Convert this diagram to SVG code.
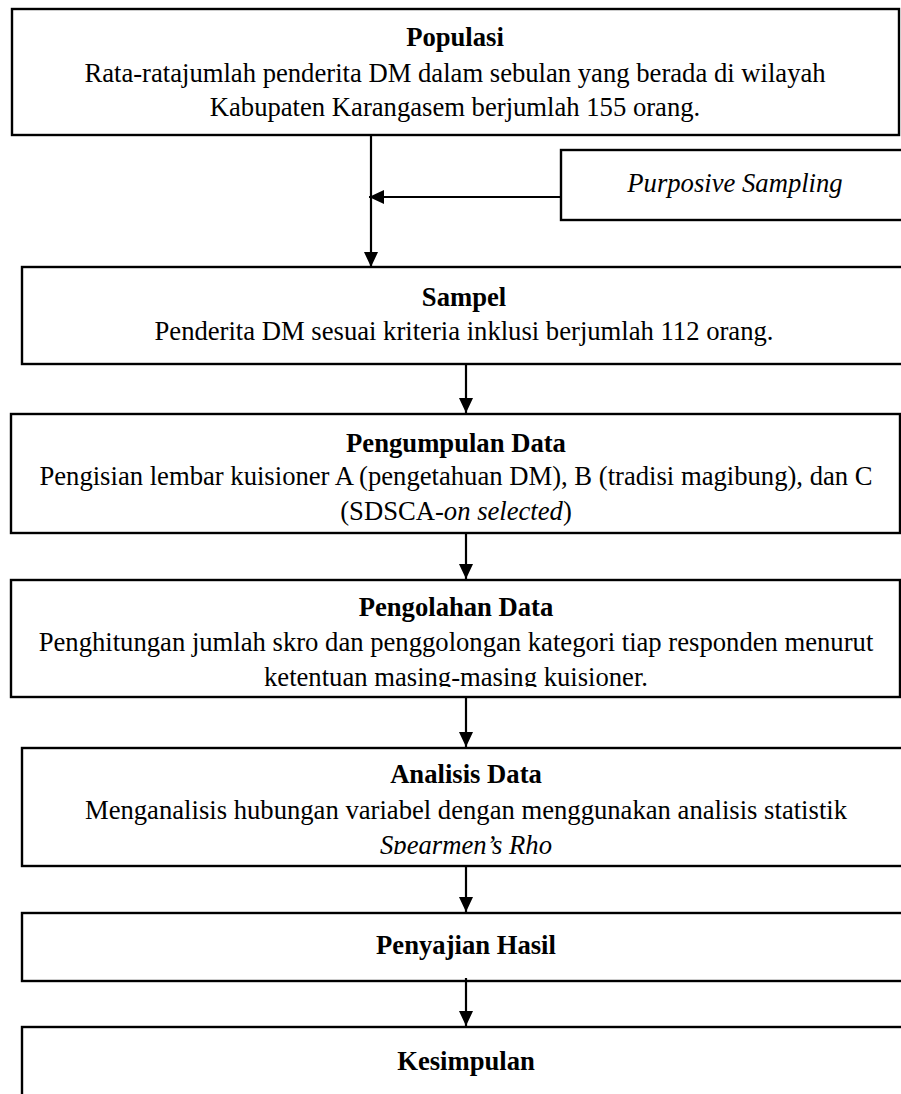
<svg xmlns="http://www.w3.org/2000/svg" width="901" height="1094" viewBox="0 0 901 1094">
<style>
.box{fill:#fff;stroke:#000;stroke-width:2.4}
text{font-family:"Liberation Serif","Times New Roman",serif;font-size:26.65px;fill:#000;text-anchor:middle}
.t{font-weight:bold}
.i{font-style:italic}
.ln{stroke:#000;stroke-width:2.2;fill:none}
</style>
<defs>
<marker id="ah" viewBox="0 0 15 14" refX="15" refY="7" markerWidth="15" markerHeight="14" markerUnits="userSpaceOnUse" orient="auto">
<path d="M0,0 L15,7 L0,14 Z" fill="#000"/>
</marker>
<clipPath id="c4"><rect x="0" y="580" width="901" height="107"/></clipPath>
<clipPath id="c5"><rect x="0" y="748" width="901" height="106"/></clipPath>
</defs>
<g id="populasi">
<rect class="box" x="12" y="9" width="887" height="126"/>
<text class="t" x="455" y="46">Populasi</text>
<text x="455" y="82">Rata-ratajumlah penderita DM dalam sebulan yang berada di wilayah</text>
<text x="455" y="116">Kabupaten Karangasem berjumlah 155 orang.</text>
</g>
<g id="purposive">
<rect class="box" x="561" y="150" width="360" height="70"/>
<text class="i" x="735" y="192">Purposive Sampling</text>
</g>
<g id="sampel">
<rect class="box" x="22" y="267" width="900" height="97"/>
<text class="t" x="464" y="306">Sampel</text>
<text x="464" y="340">Penderita DM sesuai kriteria inklusi berjumlah 112 orang.</text>
</g>
<g id="pengumpulan">
<rect class="box" x="11" y="414" width="889" height="119"/>
<text class="t" x="456" y="452">Pengumpulan Data</text>
<text x="456" y="485">Pengisian lembar kuisioner A (pengetahuan DM), B (tradisi magibung), dan C</text>
<text x="456" y="520">(SDSCA-<tspan class="i">on selected</tspan>)</text>
</g>
<g id="pengolahan">
<rect class="box" x="11" y="580" width="889" height="117"/>
<text class="t" x="456" y="616">Pengolahan Data</text>
<text x="456" y="651">Penghitungan jumlah skro dan penggolongan kategori tiap responden menurut</text>
<text x="456" y="686" clip-path="url(#c4)">ketentuan masing-masing kuisioner.</text>
</g>
<g id="analisis">
<rect class="box" x="22" y="748" width="900" height="118"/>
<text class="t" x="466" y="783">Analisis Data</text>
<text x="466" y="819">Menganalisis hubungan variabel dengan menggunakan analisis statistik</text>
<text class="i" x="466" y="854" clip-path="url(#c5)">Spearmen’s Rho</text>
</g>
<g id="penyajian">
<rect class="box" x="22" y="913" width="900" height="68"/>
<text class="t" x="466" y="954">Penyajian Hasil</text>
</g>
<g id="kesimpulan">
<rect class="box" x="22" y="1027" width="900" height="100"/>
<text class="t" x="466" y="1070">Kesimpulan</text>
</g>
<g id="connectors">
<line class="ln" x1="371" y1="136" x2="371" y2="267" marker-end="url(#ah)"/>
<line class="ln" x1="561" y1="197" x2="369" y2="197" marker-end="url(#ah)"/>
<line class="ln" x1="466" y1="365" x2="466" y2="413" marker-end="url(#ah)"/>
<line class="ln" x1="466" y1="534" x2="466" y2="579" marker-end="url(#ah)"/>
<line class="ln" x1="466" y1="698" x2="466" y2="747" marker-end="url(#ah)"/>
<line class="ln" x1="466" y1="867" x2="466" y2="912" marker-end="url(#ah)"/>
<line class="ln" x1="466" y1="978" x2="466" y2="1026" marker-end="url(#ah)"/>
</g>
</svg>
